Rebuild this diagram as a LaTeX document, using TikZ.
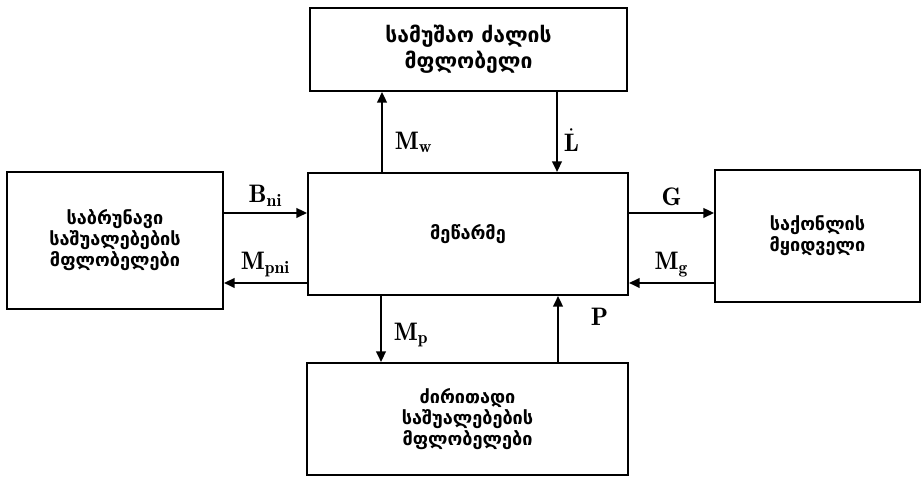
\documentclass[tikz,border=0pt]{standalone}
\usepackage{amsmath}
\usepackage{fontspec}
\usepackage{tikz}
\usetikzlibrary{
    arrows.meta,
    positioning
}
\newfontfamily\geofont{DejaVu Sans}
\tikzset{
    box/.style={draw, line width=1.2pt, align=center, inner sep=0pt,
        font=\geofont\bfseries\fontsize{10.3}{12}\selectfont},
    bigbox/.style={box, font=\geofont\bfseries\fontsize{12}{15}\selectfont},
    flow/.style={-{Triangle[length=6pt,width=5.5pt]}, line width=1.2pt},
    lbl/.style={font=\Large, inner sep=1pt}
}

\begin{document}
\begin{tikzpicture}
      \useasboundingbox (0,0) rectangle (18.48,9.56);
      % boxes
      \node[box, minimum width=6.4cm, minimum height=2.44cm] (firm) at (9.36,4.88) {მეწარმე};
      \node[bigbox, minimum width=6.34cm, minimum height=1.66cm] (labour) at (9.37,8.57) {სამუშაო ძალის\\მფლობელი};
      \node[box, minimum width=4.32cm, minimum height=2.74cm] (circ) at (2.30,4.75) {საბრუნავი\\საშუალებების\\მფლობელები};
      \node[box, minimum width=4.1cm, minimum height=2.64cm] (buyer) at (16.35,4.84) {საქონლის\\მყიდველი};
      \node[box, minimum width=6.42cm, minimum height=2.24cm] (fixed) at (9.35,1.18) {ძირითადი\\საშუალებების\\მფლობელები};
      % flows
      \draw[flow] ([xshift=-1.72cm]firm.north) -- ([xshift=-1.72cm]firm.north |- labour.south)
          node[lbl, pos=0.37, right=0.2cm] (mw) {$\mathbf{M_w}$};
      \draw[flow] ([xshift=1.78cm]firm.north |- labour.south) -- ([xshift=1.78cm]firm.north)
          node[lbl, pos=0.6, right=0.08cm] (ldot) {$\dot{\mathbf{L}}$};
      \draw[flow] ([yshift=0.42cm]firm.west -| circ.east) -- ([yshift=0.42cm]firm.west)
          node[lbl, midway, above=0.08cm] (bni) {$\mathbf{B_{ni}}$};
      \draw[flow] ([yshift=-0.98cm]firm.west) -- ([yshift=-0.98cm]firm.west -| circ.east)
          node[lbl, midway, above=0.06cm] (mpni) {$\mathbf{M_{pni}}$};
      \draw[flow] ([yshift=0.42cm]firm.east) -- ([yshift=0.42cm]firm.east -| buyer.west)
          node[lbl, midway, above=0.08cm] (g) {$\mathbf{G}$};
      \draw[flow] ([yshift=-0.98cm]firm.east -| buyer.west) -- ([yshift=-0.98cm]firm.east)
          node[lbl, midway, above=0.06cm] (mg) {$\mathbf{M_g}$};
      \draw[flow] ([xshift=-1.74cm]firm.south) -- ([xshift=-1.74cm]firm.south |- fixed.north)
          node[lbl, pos=0.59, right=0.2cm] (mp) {$\mathbf{M_p}$};
      \draw[flow] ([xshift=1.8cm]firm.south |- fixed.north) -- ([xshift=1.8cm]firm.south)
          node[lbl, pos=0.69, right=0.6cm] (p) {$\mathbf{P}$};
\end{tikzpicture}
\end{document}
